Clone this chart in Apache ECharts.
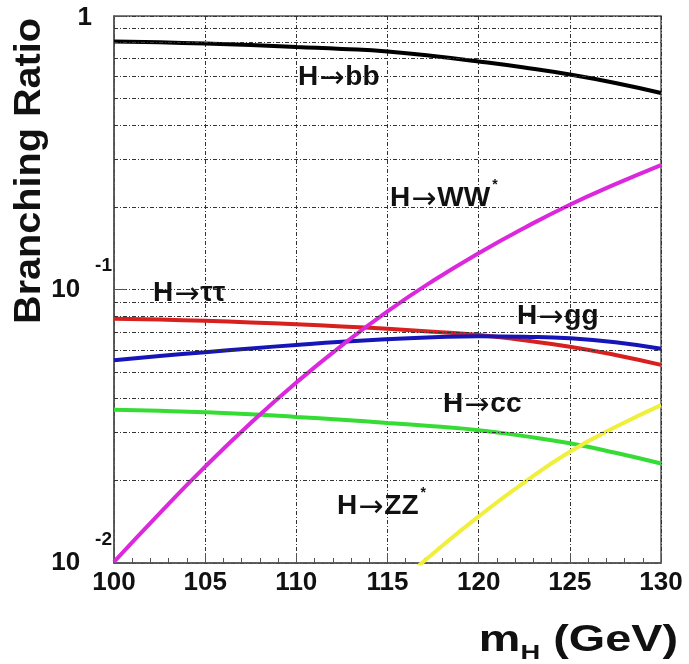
<!DOCTYPE html>
<html>
<head>
<meta charset="utf-8">
<title>Higgs branching ratios</title>
<script src="https://cdn.jsdelivr.net/npm/echarts@6/dist/echarts.min.js"></script>
<style>
  html, body { margin: 0; padding: 0; background: #fff; }
  #chart { width: 689px; height: 664px; }
</style>
</head>
<body>
<div id="chart"></div>
<script>
// Higgs mass in GeV
const MASS = [100, 102.5, 105, 107.5, 110, 112.5, 115, 117.5, 120, 122.5, 125, 127.5, 130];

// branching ratios
const BR_BB = [0.807, 0.801, 0.793, 0.783, 0.770, 0.758, 0.742, 0.714, 0.682, 0.648, 0.611, 0.569, 0.523];
const BR_WW = [0.0101, 0.0152, 0.0225, 0.0325, 0.0457, 0.0625, 0.0832, 0.1076, 0.1358, 0.1679, 0.2042, 0.2427, 0.2851];
const BR_TAU = [0.0782, 0.0776, 0.0768, 0.0758, 0.0746, 0.0733, 0.0718, 0.0701, 0.0682, 0.0652, 0.0618, 0.0576, 0.0530];
const BR_GG = [0.0551, 0.0571, 0.0590, 0.0609, 0.0627, 0.0644, 0.0658, 0.0669, 0.0675, 0.0672, 0.0663, 0.0641, 0.0607];
const BR_CC = [0.0363, 0.0360, 0.0356, 0.0350, 0.0342, 0.0334, 0.0325, 0.0316, 0.0306, 0.0291, 0.0274, 0.0253, 0.0231];
const BR_ZZ = [null, null, null, null, null, null, 0.0078, 0.01083, 0.0148, 0.0197, 0.0255, 0.0314, 0.0378];

// minor grid lines of the log axis
const MINOR_Y = [0.02, 0.03, 0.04, 0.05, 0.06, 0.07, 0.08, 0.09, 0.2, 0.3, 0.4, 0.5, 0.6, 0.7, 0.8, 0.9];

const FONT = '"Liberation Sans", Arial, Helvetica, sans-serif';
const GRID_LINE = { color: '#333', width: 1, type: [4, 2, 1, 2] };

function pairs(values) {
  return MASS.map((m, i) => [m, values[i]]).filter(p => p[1] != null);
}

function curve(name, values, color) {
  return {
    name: name,
    type: 'line',
    data: pairs(values),
    smooth: 0.5,
    showSymbol: false,
    z: 3,
    lineStyle: { color: color, width: 4 },
    itemStyle: { color: color }
  };
}

function curveLabel(x, y, text) {
  return {
    type: 'text',
    x: x,
    y: y,
    z: 10,
    style: {
      text: text,
      align: 'left',
      verticalAlign: 'middle',
      rich: LABEL_RICH
    }
  };
}

const LABEL_RICH = {
  t: { fontSize: 28, fontWeight: 'bold', fontFamily: FONT, fill: '#111', lineHeight: 28, padding: [6, 0, 6, 0] },
  a: { fontSize: 30, fontFamily: '"DejaVu Sans"', fill: '#111', lineHeight: 28, padding: [8, 1, 4, 1] },
  s: { fontSize: 14, fontWeight: 'bold', fontFamily: FONT, fill: '#111', lineHeight: 14, padding: [0, 0, 26, 2] }
};

const chart = echarts.init(document.getElementById('chart'), null, { renderer: 'canvas' });

const option = {
  backgroundColor: '#fff',
  animation: false,
  grid: {
    left: 114, right: 28, top: 16, bottom: 101,
    show: true, borderColor: '#555', borderWidth: 1.5,
    outerBoundsMode: 'none'
  },
  xAxis: {
    type: 'value',
    min: 100, max: 130, interval: 5,
    axisLine: { lineStyle: { color: '#555', width: 1.5 } },
    axisTick: { inside: true, length: 10, lineStyle: { color: '#555' } },
    minorTick: { show: true, splitNumber: 5, length: 5, lineStyle: { color: '#555' } },
    splitLine: { show: true, lineStyle: GRID_LINE },
    axisLabel: { margin: 7, fontSize: 26, fontWeight: 'bold', fontFamily: FONT, color: '#111' }
  },
  yAxis: {
    type: 'log',
    logBase: 10,
    min: 0.01, max: 1,
    axisLine: { lineStyle: { color: '#555', width: 1.5 } },
    axisTick: { inside: true, length: 12, lineStyle: { color: '#555' } },
    splitLine: { show: true, lineStyle: GRID_LINE },
    axisLabel: {
      margin: 2,
      formatter: function (value) {
        const exp = Math.round(Math.log10(value));
        if (exp === 0) return '{one|1}';
        return '{base|10}{sup|' + exp + '}';
      },
      rich: {
        one: { fontSize: 26, fontWeight: 'bold', fontFamily: FONT, color: '#111', lineHeight: 26, padding: [4, 20, 0, 0] },
        base: { fontSize: 26, fontWeight: 'bold', fontFamily: FONT, color: '#111', lineHeight: 26, padding: [20, 0, 20, 0] },
        sup: { fontSize: 19, fontWeight: 'bold', fontFamily: FONT, color: '#111', lineHeight: 19, padding: [0, 0, 47, 15] }
      }
    }
  },
  series: [
    {
      name: 'grid',
      type: 'line',
      data: [],
      z: 1,
      silent: true,
      markLine: {
        silent: true,
        symbol: ['none', 'none'],
        label: { show: false },
        lineStyle: GRID_LINE,
        emphasis: { disabled: true },
        data: MINOR_Y.map(v => ({ yAxis: v }))
      }
    },
    curve('H→bb', BR_BB, '#000000'),
    curve('H→ττ', BR_TAU, '#d8201e'),
    curve('H→gg', BR_GG, '#1616b8'),
    curve('H→cc', BR_CC, '#34dc34'),
    curve('H→ZZ*', BR_ZZ, '#f0f03c'),
    curve('H→WW*', BR_WW, '#dc28dc')
  ],
  graphic: [
    {
      type: 'text',
      x: 30, y: 171,
      rotation: Math.PI / 2,
      scaleX: 1.1,
      style: {
        text: 'Branching Ratio',
        font: 'bold 36px ' + FONT,
        fill: '#111',
        align: 'center',
        verticalAlign: 'middle'
      }
    },
    {
      type: 'text',
      x: 678, y: 647,
      scaleX: 1.3,
      style: {
        text: '{m|m}{h|H}{m| (GeV)}',
        align: 'right',
        verticalAlign: 'middle',
        rich: {
          m: { fontSize: 36, fontWeight: 'bold', fontFamily: FONT, fill: '#111', lineHeight: 36, padding: [0, 0, 12, 0] },
          h: { fontSize: 21, fontWeight: 'bold', fontFamily: FONT, fill: '#111', lineHeight: 21, padding: [20, 0, 7, 0] }
        }
      }
    },
    curveLabel(298, 77, '{t|H}{a|→}{t|bb}'),
    curveLabel(390, 198, '{t|H}{a|→}{t|WW}{s|*}'),
    curveLabel(153, 293, '{t|H}{a|→}{t|ττ}'),
    curveLabel(517, 316, '{t|H}{a|→}{t|gg}'),
    curveLabel(443, 404, '{t|H}{a|→}{t|cc}'),
    curveLabel(337, 506, '{t|H}{a|→}{t|ZZ}{s|*}')
  ]
};

chart.setOption(option);
</script>
</body>
</html>
